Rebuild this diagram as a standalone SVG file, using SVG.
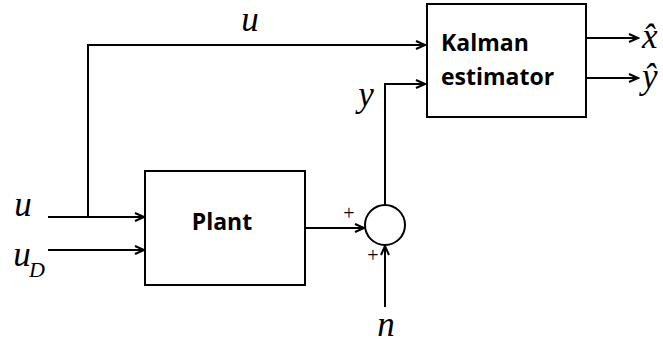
<svg xmlns="http://www.w3.org/2000/svg" width="663" height="344" viewBox="0 0 663 344">
<style>
.box{fill:#fff;stroke:#000;stroke-width:2}
.ln{fill:none;stroke:#000;stroke-width:2}
.bl{font-family:"Open Sans","Liberation Sans",sans-serif;font-weight:700;font-size:23px;fill:#000}
.it{font-family:"Liberation Serif","Times New Roman",serif;font-style:italic;font-size:35px;fill:#000}
.pl{font-family:"Liberation Serif","Times New Roman",serif;font-size:20px;fill:#000}
</style>
<defs>
<marker id="ah" markerWidth="12" markerHeight="10" refX="10" refY="5" orient="auto" markerUnits="userSpaceOnUse">
<path d="M1,1 L10,5 L1,9" fill="none" stroke="#000" stroke-width="2"/>
</marker>
</defs>
<g id="connectors">
<path class="ln" d="M88,217 V45 H425" marker-end="url(#ah)"/>
<path class="ln" d="M48,217 H144" marker-end="url(#ah)"/>
<path class="ln" d="M48,250 H144" marker-end="url(#ah)"/>
<path class="ln" d="M305,228 H364" marker-end="url(#ah)"/>
<path class="ln" d="M385,205 V84 H425" marker-end="url(#ah)"/>
<path class="ln" d="M385,307 V246" marker-end="url(#ah)"/>
<path class="ln" d="M586,38 H638" marker-end="url(#ah)"/>
<path class="ln" d="M586,78 H638" marker-end="url(#ah)"/>
</g>
<g id="kalman">
<rect class="box" x="427" y="4" width="159" height="113"/>
<text class="bl" x="441" y="51">Kalman</text>
<text class="bl" x="441" y="85">estimator</text>
</g>
<g id="plant">
<rect class="box" x="145" y="171" width="160" height="114"/>
<text class="bl" x="222" y="230" text-anchor="middle">Plant</text>
</g>
<g id="sum">
<circle class="box" cx="385" cy="225" r="20"/>
<text class="pl" x="349" y="220" text-anchor="middle">+</text>
<text class="pl" x="373" y="262" text-anchor="middle">+</text>
</g>
<g id="labels">
<text class="it" x="250" y="31" text-anchor="middle">u</text>
<text class="it" x="366" y="106" text-anchor="middle">y</text>
<text class="it" x="23" y="216" text-anchor="middle">u</text>
<text class="it" x="22" y="266" text-anchor="middle">u</text>
<text class="it" x="29" y="277" style="font-size:22px">D</text>
<text class="it" x="386" y="336" text-anchor="middle">n</text>
<text class="it" x="642" y="48">x̂</text>
<text class="it" x="642" y="88">ŷ</text>
</g>
</svg>
